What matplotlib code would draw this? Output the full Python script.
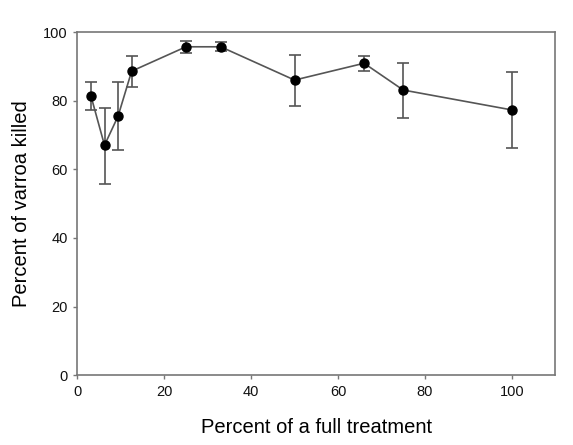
import matplotlib.pyplot as plt

# treatment dose (% of full) vs mite kill
dose = [3.125, 6.25, 9.375, 12.5, 25, 33, 50, 66, 75, 100]
killed = [81.4, 67.0, 75.5, 88.6, 95.7, 95.7, 86.0, 90.9, 83.1, 77.3]
err_hi = [85.5, 77.9, 85.5, 92.9, 97.4, 97.0, 93.4, 93.1, 91.0, 88.3]
err_lo = [77.4, 55.7, 65.6, 84.1, 93.8, 94.4, 78.3, 88.5, 75.0, 66.2]

lower = [k - lo for k, lo in zip(killed, err_lo)]
upper = [hi - k for k, hi in zip(killed, err_hi)]

plt.rcParams['font.family'] = ['Liberation Sans', 'DejaVu Sans']
fig = plt.figure(figsize=(5.73, 4.45), dpi=100)
ax = fig.add_axes([0.135, 0.157, 0.834, 0.771])

ax.errorbar(dose, killed, yerr=[lower, upper], fmt='-o', color='#555555',
            ecolor='#555555', elinewidth=1.2, capsize=4, capthick=1.2, lw=1.2,
            mfc='black', mec='black', ms=6.5)

ax.set_xlim(0, 110)
ax.set_ylim(0, 100)
ax.set_xticks([0, 20, 40, 60, 80, 100])
ax.set_yticks([0, 20, 40, 60, 80, 100])
for s in ax.spines.values():
    s.set_color('#777777')
    s.set_linewidth(1.2)
ax.tick_params(direction='out', length=3, width=1, colors='#777777',
               labelcolor='#111111', labelsize=10.5, top=False, right=False,
               pad=4)
ax.set_xlabel("Percent of a full treatment", fontsize=14.5, labelpad=14)
ax.set_ylabel("Percent of varroa killed", fontsize=14.5, labelpad=9)

plt.savefig("out.png", dpi=100)
plt.close()
